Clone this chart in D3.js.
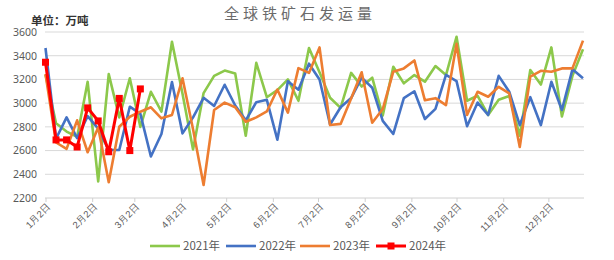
<!DOCTYPE html>
<html><head><meta charset="utf-8">
<script src="https://cdn.jsdelivr.net/npm/d3@7/dist/d3.min.js"></script>
<style>
html,body{margin:0;padding:0;background:#fff;}
svg{display:block;font-family:"Noto Sans CJK SC","Noto Sans",sans-serif;}
</style></head>
<body><svg id="c" width="614" height="260"></svg>
<script>
const title = "全球铁矿石发运量";
const unitLabel = "单位：万吨";
const seriesNames = ["2021年", "2022年", "2023年", "2024年"];
const seriesColors = ["#8cc84b", "#4472c4", "#ed7d31", "#ff0000"];
const yTicks = [2200, 2400, 2600, 2800, 3000, 3200, 3400, 3600];
const xTickMonths = [0,1,2,3,4,5,6,7,8,9,10,11];
const xTickLabels = ["1月2日","2月2日","3月2日","4月2日","5月2日","6月2日","7月2日","8月2日","9月2日","10月2日","11月2日","12月2日"];

const v2021 = [3240, 2830, 2760, 2715, 3180, 2340, 3245, 2880, 3210, 2800,
  3096, 2928, 3518, 3080, 2610, 3085, 3230, 3275, 3250, 2725,
  3340, 3050, 3110, 3200, 3020, 3465, 3260, 3045, 2960, 3255,
  3140, 3215, 2895, 3307, 3167, 3237, 3181, 3313, 3237, 3560,
  3020, 3062, 2900, 3028, 3060, 2725, 3280, 3157, 3470, 2887, 3230, 3455];
const v2022 = [3465, 2700, 2880, 2705, 2890, 2785, 2605, 2605, 2970, 2910,
  2550, 2740, 3178, 2745, 2880, 3045, 2976, 3155, 2980, 2855,
  3008, 3028, 2692, 3184, 3113, 3333, 3200, 2820, 2965, 3043,
  3215, 3130, 2850, 2740, 3042, 3100, 2866, 2952, 3238, 3186,
  2805, 3005, 2900, 3230, 3096, 2815, 3050, 2815, 3180, 2942, 3285, 3209];
const v2023 = [3246, 2668, 2614, 2855, 2586, 2794, 2333, 2801, 2885, 2928,
  2965, 2872, 2900, 3209, 2780, 2310, 2942, 3004, 2965, 2843,
  2880, 2930, 3115, 2920, 3295, 3255, 3470, 2815, 2825, 3040,
  3260, 2835, 2950, 3265, 3293, 3360, 3024, 3042, 2984, 3500,
  2900, 3096, 3054, 3138, 3082, 2630, 3224, 3273, 3265, 3293, 3293, 3527];
const v2024 = [3345, 2690, 2690, 2630, 2960, 2850, 2590, 3040, 2600, 3120];

const series = [v2021, v2022, v2023, v2024];

const svg = d3.select("#c");
const start = new Date(2023, 0, 2);
const end = new Date(2023, 11, 25);
const weekDate = i => d3.timeDay.offset(start, 7 * i);

const x = d3.scaleTime().domain([start, end]).range([45.5, 583]);
const y = d3.scaleLinear().domain([2200, 3600]).range([198, 32]);

// gridlines
svg.append("g").selectAll("line").data(yTicks.slice(1)).join("line")
  .attr("x1", 45).attr("x2", 584)
  .attr("y1", d => y(d)).attr("y2", d => y(d))
  .attr("stroke", "#d9d9d9").attr("stroke-width", 1);

// y axis labels
const yAxis = d3.axisLeft(y).tickValues(yTicks).tickFormat(d3.format("d")).tickSize(0).tickPadding(8);
const gy = svg.append("g").attr("transform", "translate(45,0)").call(yAxis);
gy.select(".domain").remove();
gy.selectAll("text").attr("fill", "#595959").style("font-size", "10.5px")
  .style("font-family", "'Noto Sans','DejaVu Sans',sans-serif");

// x axis
const xTickDates = xTickMonths.map(m => new Date(2023, m, 2));
const xAxis = d3.axisBottom(x).tickValues(xTickDates)
  .tickFormat((d, i) => xTickLabels[i]).tickSize(4).tickSizeOuter(0);
const gx = svg.append("g").attr("transform", "translate(0,198)").call(xAxis);
gx.select(".domain").attr("stroke", "#d0d0d0").attr("d", "M45,0H584");
gx.selectAll(".tick line").attr("stroke", "#d0d0d0");
gx.selectAll("text").attr("fill", "#595959").style("font-size", "9.5px")
  .attr("text-anchor", "end")
  .attr("transform", "translate(3,7) rotate(-45)")
  .attr("dy", "0.35em").attr("y", 0).attr("x", 0);

// lines
const line = d3.line().x((d, i) => x(weekDate(i))).y(d => y(d));
series.forEach((s, k) => {
  svg.append("path").datum(s).attr("d", line)
    .attr("fill", "none").attr("stroke", seriesColors[k])
    .attr("stroke-width", k === 3 ? 3 : 2.6)
    .attr("stroke-linejoin", "round");
});
svg.append("g").selectAll("rect").data(v2024).join("rect")
  .attr("x", (d, i) => x(weekDate(i)) - 3.5)
  .attr("y", d => y(d) - 3.5)
  .attr("width", 7).attr("height", 7).attr("fill", seriesColors[3]);

// title
svg.append("text").attr("x", 300).attr("y", 19).attr("text-anchor", "middle")
  .attr("fill", "#6b6b6b").style("font-size", "15px").style("letter-spacing", "4px")
  .text(title);
svg.append("text").attr("x", 31).attr("y", 25)
  .attr("fill", "#333").style("font-size", "11.5px").style("font-weight", "bold")
  .text(unitLabel);

// legend
const legendX = [150, 226, 300, 376];
const lg = svg.append("g");
seriesNames.forEach((n, k) => {
  const g = lg.append("g").attr("transform", `translate(${legendX[k]},246)`);
  g.append("line").attr("x1", 0).attr("x2", 30).attr("y1", 0).attr("y2", 0)
    .attr("stroke", seriesColors[k]).attr("stroke-width", k === 3 ? 3 : 2.6);
  if (k === 3) g.append("rect").attr("x", 11.5).attr("y", -3.5).attr("width", 7).attr("height", 7).attr("fill", seriesColors[k]);
  g.append("text").attr("x", 33).attr("y", 0).attr("dy", "0.35em")
    .attr("fill", "#595959").style("font-size", "11.5px").text(n);
});
</script></body></html>
